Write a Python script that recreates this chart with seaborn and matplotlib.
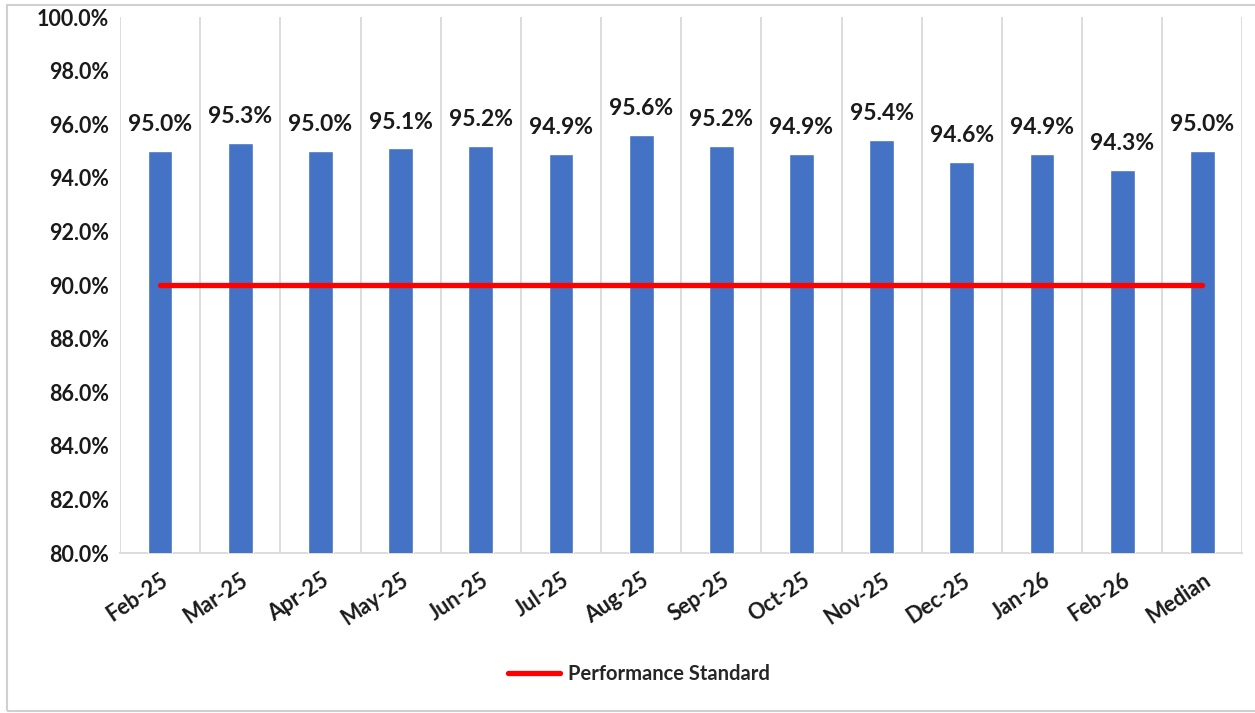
import matplotlib
matplotlib.use("Agg")
import matplotlib.pyplot as plt
import seaborn as sns
import pandas as pd
from matplotlib.lines import Line2D
from matplotlib.patches import Rectangle
from matplotlib.ticker import FuncFormatter, FixedLocator

months = ["Feb-25", "Mar-25", "Apr-25", "May-25", "Jun-25", "Jul-25", "Aug-25",
          "Sep-25", "Oct-25", "Nov-25", "Dec-25", "Jan-26", "Feb-26", "Median"]
rates = [95.0, 95.3, 95.0, 95.1, 95.2, 94.9, 95.6, 95.2, 94.9, 95.4, 94.6, 94.9, 94.3, 95.0]
standard = [90.0, 90.0, 90.0, 90.0, 90.0, 90.0, 90.0, 90.0, 90.0, 90.0, 90.0, 90.0, 90.0, 90.0]

bar_color = "#4472C4"
grid_color = "#D9D9D9"

sns.set_style("white")
plt.rcParams["font.family"] = ["Lato", "DejaVu Sans"]
plt.rcParams["font.weight"] = "bold"

df = pd.DataFrame({"month": months, "rate": rates, "standard": standard})

fig = plt.figure(figsize=(12.55, 7.13), dpi=100)
ax = fig.add_axes([0.0956, 0.2244, 0.8944, 0.7516])

sns.barplot(data=df, x="month", y="rate", color=bar_color, width=0.31,
            saturation=1, ax=ax, zorder=3)
ax.plot(range(len(months)), df["standard"], color="#FF0000", lw=3.8,
        solid_capstyle="round", zorder=4)

for i, v in enumerate(rates):
    ax.annotate(f"{v:.1f}%", (i, v), xytext=(0, 19), textcoords="offset points",
                ha="center", va="center", fontsize=16.5, fontweight="bold", color="#1a1a1a")

ax.set_ylim(80, 100)
ax.set_xlim(-0.5, len(months) - 0.5)
ax.set_yticks(range(80, 101, 2))
ax.yaxis.set_major_formatter(FuncFormatter(lambda v, p: f"{v:.1f}%"))
ax.set_xlabel("")
ax.set_ylabel("")

# category boundaries as vertical grid lines
ax.xaxis.set_minor_locator(FixedLocator([i - 0.5 for i in range(len(months) + 1)]))
ax.grid(which="minor", axis="x", color=grid_color, lw=1.3, zorder=0)
ax.grid(which="major", axis="y", visible=False)
ax.tick_params(axis="x", which="minor", length=9, width=1.3, color=grid_color)
ax.tick_params(axis="x", which="major", length=0, pad=12)
ax.tick_params(axis="y", length=0, pad=8)
plt.setp(ax.get_xticklabels(), rotation=34, ha="right", rotation_mode="anchor",
         fontsize=15.5, fontweight="bold")
plt.setp(ax.get_yticklabels(), fontsize=15.5, fontweight="bold")
for lbl in ax.get_yticklabels() + ax.get_xticklabels():
    lbl.set_color("#1a1a1a")

for s in ["top", "right", "left"]:
    ax.spines[s].set_visible(False)
ax.spines["bottom"].set_color(grid_color)
ax.spines["bottom"].set_linewidth(1.3)

handle = Line2D([0], [0], color="#FF0000", lw=3.8)
fig.legend([handle], ["Performance Standard"], loc="center",
           bbox_to_anchor=(0.509, 0.054), frameon=False, handlelength=2.6,
           handletextpad=0.4, prop={"size": 14.5, "weight": "bold"})

fig.patches.append(Rectangle((0.0056, 0.003), 1.2, 0.99, transform=fig.transFigure,
                             fill=False, edgecolor="#D0D0D0", lw=1.5))

fig.savefig("out.png", dpi=100)
